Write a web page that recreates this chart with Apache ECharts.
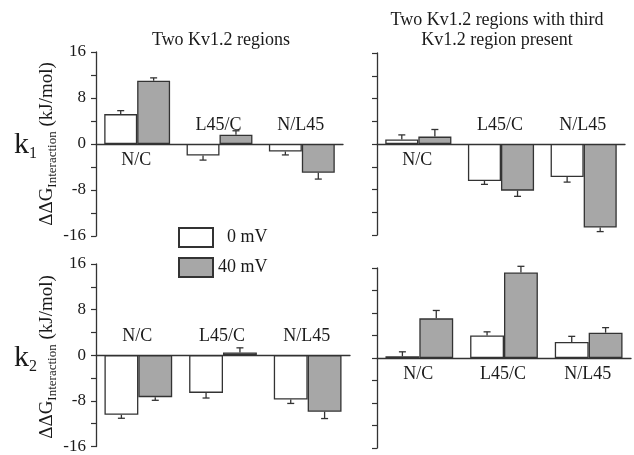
<!DOCTYPE html>
<html>
<head>
<meta charset="utf-8">
<script src="https://cdn.jsdelivr.net/npm/echarts@6/dist/echarts.min.js"></script>
<style>
html,body{margin:0;padding:0;background:#fff;}
#c{width:634px;height:455px;}
</style>
</head>
<body>
<div id="c"></div>
<script>
// ---- data ----
var categories = ['N/C', 'L45/C', 'N/L45'];
var seriesNames = ['0 mV', '40 mV'];
var yTicks = [-16, -8, 0, 8, 16];

// k1, two Kv1.2 regions
var k1Two0 = [5.2, -2.0, -1.3];
var k1Two0Err = [0.6, 0.8, 0.6];
var k1Two40 = [11.0, 1.6, -5.0];
var k1Two40Err = [0.5, 0.7, 1.1];
// k1, with third region present
var k1Third0 = [0.8, -6.5, -5.8];
var k1Third0Err = [0.8, 0.6, 0.9];
var k1Third40 = [1.3, -8.2, -14.7];
var k1Third40Err = [1.25, 1.0, 0.7];
// k2, two Kv1.2 regions
var k2Two0 = [-10.45, -6.6, -7.75];
var k2Two0Err = [0.6, 0.9, 0.7];
var k2Two40 = [-7.35, 0.5, -9.9];
var k2Two40Err = [0.55, 0.8, 1.2];
// k2, with third region present
var k2Third0 = [0.3, 4.0, 2.85];
var k2Third0Err = [0.8, 0.65, 1.0];
var k2Third40 = [7.05, 15.2, 4.5];
var k2Third40Err = [1.4, 1.1, 0.9];

// ---- layout / style ----
var FONT = '"Liberation Serif", "DejaVu Serif", serif';
var INK = '#1a1a1a';
var LINE = '#333';
var GRAY = '#a7a7a7';

var panels = [
  {grid: {left: 96, top: 52, width: 247, height: 184}, v0: k1Two0, e0: k1Two0Err, v40: k1Two40, e40: k1Two40Err, labels: true, place: [1, -1, -1]},
  {grid: {left: 377, top: 53, width: 248, height: 182}, v0: k1Third0, e0: k1Third0Err, v40: k1Third40, e40: k1Third40Err, labels: false, place: [1, -1, -1]},
  {grid: {left: 96, top: 264, width: 254, height: 186}, v0: k2Two0, e0: k2Two0Err, v40: k2Two40, e40: k2Two40Err, labels: true, place: [-1, -1, -1]},
  {grid: {left: 377, top: 268, width: 254, height: 180}, v0: k2Third0, e0: k2Third0Err, v40: k2Third40, e40: k2Third40Err, labels: false, place: [1, 1, 1]}
];

var grids = [], xAxes = [], yAxes = [], series = [];

function errRender(offset) {
  return function (params, api) {
    var idx = api.value(0), v = api.value(1), e = api.value(2);
    var c = api.coord([idx, v]);
    var band = api.size([1, 0])[0];
    var bw = band * 0.4;
    var x = c[0] + offset * bw;
    var sign = v >= 0 ? 1 : -1;
    var end = api.coord([idx, v + sign * e])[1];
    var st = {stroke: LINE, lineWidth: 1.3};
    return {
      type: 'group',
      children: [
        {type: 'line', shape: {x1: x, y1: c[1], x2: x, y2: end}, style: st},
        {type: 'line', shape: {x1: x - 3.5, y1: end, x2: x + 3.5, y2: end}, style: st}
      ]
    };
  };
}

panels.forEach(function (p, gi) {
  grids.push(p.grid);
  xAxes.push({
    type: 'category', gridIndex: gi, data: categories,
    axisLine: {onZero: true, lineStyle: {color: LINE, width: 1.3}},
    axisTick: {show: false}, axisLabel: {show: false}, splitLine: {show: false}
  });
  yAxes.push({
    type: 'value', gridIndex: gi, min: yTicks[0], max: yTicks[yTicks.length - 1], interval: 4,
    axisLine: {show: true, onZero: false, lineStyle: {color: LINE, width: 1.3}},
    axisTick: {show: true, length: 5, lineStyle: {color: LINE, width: 1.2}},
    splitLine: {show: false},
    axisLabel: {
      show: p.labels, margin: 10, color: INK, fontFamily: FONT, fontSize: 17,
      formatter: function (v) { return yTicks.indexOf(v) >= 0 ? String(v) : ''; }
    }
  });
  series.push({
    name: seriesNames[0], type: 'bar', xAxisIndex: gi, yAxisIndex: gi, data: p.v0,
    barWidth: '40%', barGap: '0%',
    itemStyle: {color: '#ffffff', borderColor: LINE, borderWidth: 1.3}
  });
  series.push({
    name: seriesNames[1], type: 'bar', xAxisIndex: gi, yAxisIndex: gi, data: p.v40,
    barWidth: '40%', barGap: '0%',
    itemStyle: {color: GRAY, borderColor: LINE, borderWidth: 1.3}
  });
  series.push({
    name: 'err0-' + gi, type: 'custom', xAxisIndex: gi, yAxisIndex: gi, z: 5,
    data: p.v0.map(function (v, i) { return [i, v, p.e0[i]]; }),
    renderItem: errRender(-0.5), silent: true
  });
  series.push({
    name: 'err40-' + gi, type: 'custom', xAxisIndex: gi, yAxisIndex: gi, z: 5,
    data: p.v40.map(function (v, i) { return [i, v, p.e40[i]]; }),
    renderItem: errRender(0.5), silent: true
  });
  series.push({
    name: 'cat-' + gi, type: 'custom', xAxisIndex: gi, yAxisIndex: gi, z: 6, silent: true,
    data: categories.map(function (c, i) { return [i, 0, p.place[i]]; }),
    renderItem: function (params, api) {
      var i = api.value(0);
      var pt = api.coord([i, 0]);
      var below = api.value(2) > 0;
      return {
        type: 'text',
        style: {
          text: categories[i], x: pt[0] - 1, y: pt[1] + (below ? 16 : -19),
          align: 'center', verticalAlign: 'middle',
          fontFamily: FONT, fontSize: 18, fill: INK
        }
      };
    }
  });
});

var chart = echarts.init(document.getElementById('c'), null, {renderer: 'canvas'});
chart.setOption({
  backgroundColor: '#fff',
  animation: false,
  grid: grids,
  xAxis: xAxes,
  yAxis: yAxes,
  series: series,
  legend: {
    data: seriesNames, orient: 'vertical', left: 173, top: 222,
    itemWidth: 34, itemHeight: 19, itemGap: 9, icon: 'rect',
    textStyle: {fontFamily: FONT, fontSize: 18, color: INK},
    formatter: function (n) { return n === '0 mV' ? '  ' + n : n; }
  },
  graphic: [
    {type: 'text', style: {text: 'Two Kv1.2 regions', x: 221, y: 40, align: 'center', verticalAlign: 'middle', fontFamily: FONT, fontSize: 18, fill: INK}},
    {type: 'text', style: {text: 'Two Kv1.2 regions with third', x: 497, y: 20, align: 'center', verticalAlign: 'middle', fontFamily: FONT, fontSize: 18, fill: INK}},
    {type: 'text', style: {text: 'Kv1.2 region present', x: 497, y: 40, align: 'center', verticalAlign: 'middle', fontFamily: FONT, fontSize: 18, fill: INK}},
    {type: 'text', x: 14, y: 130, style: {text: '{k|k}{s|1}', rich: {k: {fontFamily: FONT, fontSize: 30, fill: INK}, s: {fontFamily: FONT, fontSize: 16, fill: INK, verticalAlign: 'bottom', padding: [0, 0, -2, 0]}}}},
    {type: 'text', x: 14, y: 343, style: {text: '{k|k}{s|2}', rich: {k: {fontFamily: FONT, fontSize: 30, fill: INK}, s: {fontFamily: FONT, fontSize: 16, fill: INK, verticalAlign: 'bottom', padding: [0, 0, -2, 0]}}}},
    {type: 'text', x: 47, y: 144, rotation: Math.PI / 2, style: {text: '{a|ΔΔG}{s|Interaction}{a| (kJ/mol)}', align: 'center', verticalAlign: 'middle', rich: {a: {fontFamily: FONT, fontSize: 19, fill: INK}, s: {fontFamily: FONT, fontSize: 13, fill: INK, verticalAlign: 'bottom', padding: [0, 0, -3, 0]}}}},
    {type: 'text', x: 47, y: 357, rotation: Math.PI / 2, style: {text: '{a|ΔΔG}{s|Interaction}{a| (kJ/mol)}', align: 'center', verticalAlign: 'middle', rich: {a: {fontFamily: FONT, fontSize: 19, fill: INK}, s: {fontFamily: FONT, fontSize: 13, fill: INK, verticalAlign: 'bottom', padding: [0, 0, -3, 0]}}}}
  ]
});
</script>
</body>
</html>
